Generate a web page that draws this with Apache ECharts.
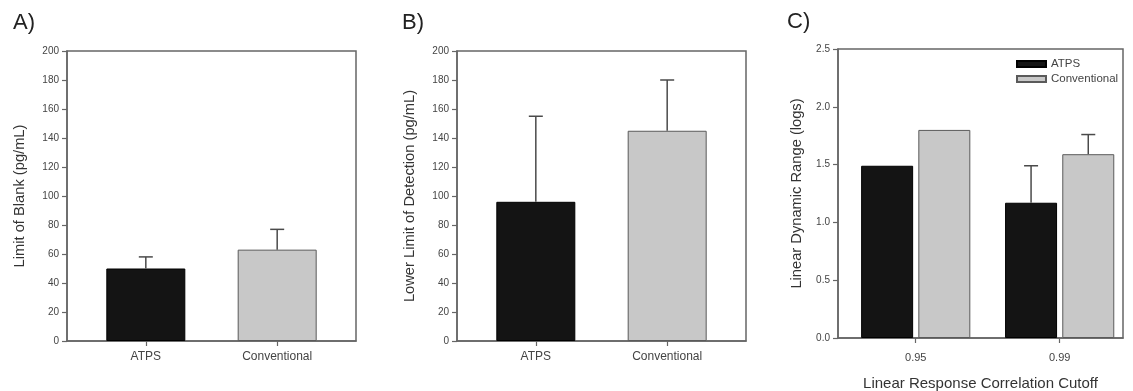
<!DOCTYPE html>
<html>
<head>
<meta charset="utf-8">
<script src="https://cdn.jsdelivr.net/npm/echarts@6/dist/echarts.min.js"></script>
<style>
  html, body { margin: 0; padding: 0; background: #fff; }
  #chart { width: 1133px; height: 391px; }
</style>
</head>
<body>
<div id="chart"></div>
<script>
// ---- data ----
const methods = ['ATPS', 'Conventional'];
const blankMean = [50, 63];
const blankErr = [8, 14];
const detectionMean = [96, 145];
const detectionErr = [59, 35];
const cutoffs = ['0.95', '0.99'];
const rangeAtps = [1.49, 1.17];
const rangeAtpsErr = [0, 0.32];
const rangeConv = [1.80, 1.59];
const rangeConvErr = [0, 0.17];
const countTicks = ['0', '20', '40', '60', '80', '100', '120', '140', '160', '180', '200'];
const logTicks = ['0.0', '0.5', '1.0', '1.5', '2.0', '2.5'];

// ---- styling ----
const FONT = "'Liberation Sans', Arial, sans-serif";
const AXIS = '#666';
const TEXT = '#444';
const BLACK = '#141414';
const GRAY = '#c8c8c8';
const GRAY_EDGE = '#5a5a5a';
const ERR = '#4a4a4a';

const chart = echarts.init(document.getElementById('chart'));

const grids = [
  { left: 67, top: 51, width: 289, height: 290 },
  { left: 457, top: 51, width: 289, height: 290 },
  { left: 838, top: 49, width: 285, height: 289 }
];

function xAxisFor(gridIndex, names, min, max, labelSize, labelMargin, title) {
  return {
    type: 'value', gridIndex, min, max,
    axisLine: { show: true, lineStyle: { color: AXIS, width: 1.5 } },
    splitLine: { show: false },
    axisTick: { show: true, length: 5, customValues: names.map((_, i) => i + 1), lineStyle: { color: AXIS, width: 1.2 } },
    axisLabel: {
      customValues: names.map((_, i) => i + 1),
      formatter: v => names[Math.round(v) - 1] || '',
      color: TEXT, fontFamily: FONT, fontSize: labelSize, margin: labelMargin
    },
    name: title || '', nameLocation: 'middle', nameGap: 38,
    nameTextStyle: { color: '#333', fontFamily: FONT, fontSize: 15 }
  };
}

function yAxisFor(gridIndex, ticks, title, gap) {
  const step = Number(ticks[1]) - Number(ticks[0]);
  return {
    type: 'value', gridIndex,
    min: Number(ticks[0]), max: Number(ticks[ticks.length - 1]), interval: step,
    axisLine: { show: true, lineStyle: { color: AXIS, width: 1.5 } },
    splitLine: { show: false },
    axisTick: { show: true, length: 5, lineStyle: { color: AXIS, width: 1.2 } },
    axisLabel: {
      formatter: v => ticks[Math.round((v - Number(ticks[0])) / step)],
      color: TEXT, fontFamily: FONT, fontSize: 10, margin: 8
    },
    name: title, nameLocation: 'middle', nameGap: gap,
    nameTextStyle: { color: '#333', fontFamily: FONT, fontSize: 14.7 }
  };
}

// vertical error bar with a cap; offset shifts it onto a grouped bar
function errorBars(name, xIdx, means, errs, offset) {
  return {
    type: 'custom', name, xAxisIndex: xIdx, yAxisIndex: xIdx, z: 5,
    silent: true,
    data: means.map((m, i) => [i + 1, m, errs[i]]),
    renderItem(params, api) {
      const e = api.value(2);
      if (!e) return null;
      const base = api.coord([api.value(0), api.value(1)]);
      const top = api.coord([api.value(0), api.value(1) + e]);
      const x = base[0] + offset;
      const st = { stroke: ERR, lineWidth: 1.5 };
      return {
        type: 'group',
        children: [
          { type: 'line', shape: { x1: x, y1: base[1], x2: x, y2: top[1] }, style: st },
          { type: 'line', shape: { x1: x - 7, y1: top[1], x2: x + 7, y2: top[1] }, style: st }
        ]
      };
    }
  };
}

const methodStyle = [
  { color: BLACK, borderColor: '#000', borderWidth: 1 },
  { color: GRAY, borderColor: GRAY_EDGE, borderWidth: 1 }
];

function methodBars(xIdx, means) {
  return {
    type: 'bar', xAxisIndex: xIdx, yAxisIndex: xIdx, barWidth: 79,
    data: means.map((m, i) => ({ value: [i + 1, m], itemStyle: methodStyle[i] }))
  };
}

const option = {
  animation: false,
  backgroundColor: '#fff',
  title: [
    { text: 'A)', left: 13, top: 12 },
    { text: 'B)', left: 402, top: 12 },
    { text: 'C)', left: 787, top: 11 }
  ].map(t => Object.assign(t, { padding: 0, textStyle: { fontFamily: FONT, fontSize: 22, fontWeight: 'normal', color: '#222' } })),
  grid: grids.map(g => Object.assign({
    show: true, borderColor: AXIS, borderWidth: 1.5, backgroundColor: '#fff',
    containLabel: false, outerBoundsMode: 'none'
  }, g)),
  legend: {
    left: 1016, top: 58, orient: 'vertical', padding: 0,
    icon: 'rect', itemWidth: 29, itemHeight: 6, itemGap: 3,
    data: ['ATPS', 'Conventional'],
    textStyle: { color: TEXT, fontFamily: FONT, fontSize: 11.5, padding: [0, 0, 0, 0] }
  },
  xAxis: [
    xAxisFor(0, methods, 0.4, 2.6, 12, 10),
    xAxisFor(1, methods, 0.4, 2.6, 12, 10),
    xAxisFor(2, cutoffs, 0.46, 2.44, 11, 14, 'Linear Response Correlation Cutoff')
  ],
  yAxis: [
    yAxisFor(0, countTicks, 'Limit of Blank (pg/mL)', 40),
    yAxisFor(1, countTicks, 'Lower Limit of Detection (pg/mL)', 40),
    yAxisFor(2, logTicks, 'Linear Dynamic Range (logs)', 34)
  ],
  series: [
    methodBars(0, blankMean),
    errorBars('blankErr', 0, blankMean, blankErr, 0),
    methodBars(1, detectionMean),
    errorBars('detectionErr', 1, detectionMean, detectionErr, 0),
    {
      name: 'ATPS', type: 'bar', xAxisIndex: 2, yAxisIndex: 2,
      barWidth: 52, barGap: '10%',
      itemStyle: methodStyle[0],
      data: cutoffs.map((_, i) => [i + 1, rangeAtps[i]])
    },
    {
      name: 'Conventional', type: 'bar', xAxisIndex: 2, yAxisIndex: 2,
      barWidth: 52, barGap: '10%',
      itemStyle: methodStyle[1],
      data: cutoffs.map((_, i) => [i + 1, rangeConv[i]])
    },
    errorBars('rangeAtpsErr', 2, rangeAtps, rangeAtpsErr, -28.6),
    errorBars('rangeConvErr', 2, rangeConv, rangeConvErr, 28.6)
  ]
};

chart.setOption(option);
</script>
</body>
</html>
